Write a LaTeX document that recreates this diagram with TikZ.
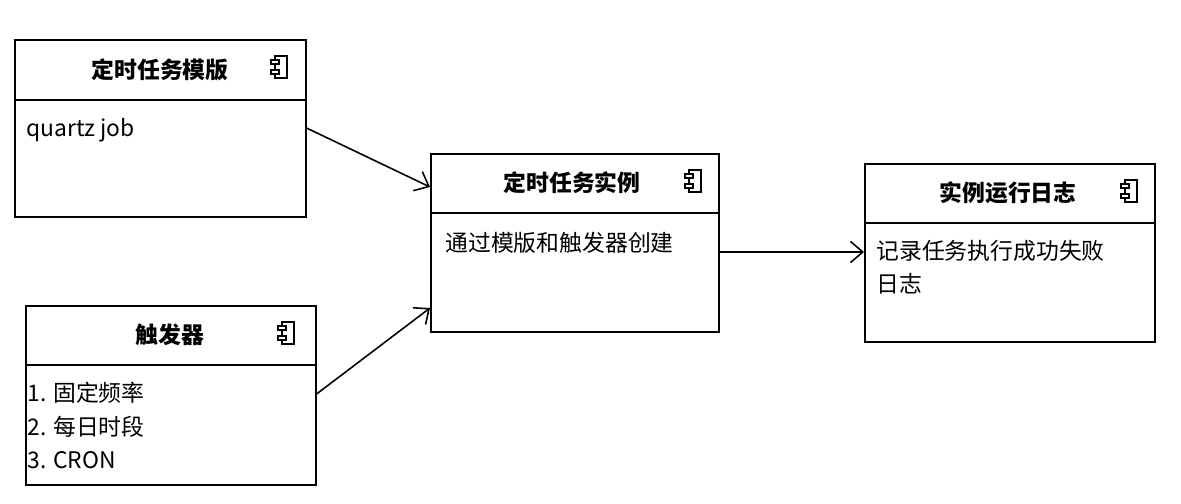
\documentclass[tikz,border=0pt]{standalone}
\usepackage{fontspec}
\setmainfont{Noto Sans CJK SC}
\usetikzlibrary{arrows.meta}
\tikzset{
  comp/.style={draw, line width=0.9pt, anchor=north west, inner sep=0pt},
  title/.style={font=\bfseries\fontsize{13}{15}\selectfont},
  body/.style={anchor=north west, align=left, font=\fontsize{13}{19}\selectfont, inner sep=0pt},
  conn/.style={line width=0.9pt, -{Straight Barb[length=7pt,width=12pt]}},
}
% component icon
\newcommand{\compicon}[1]{%
  \draw[line width=0.6pt] ($(#1)+(-5,-11)$) rectangle ($(#1)+(7,11)$);
  \draw[line width=0.6pt,fill=white] ($(#1)+(-9,-7)$) rectangle ($(#1)+(-1,-3)$);
  \draw[line width=0.6pt,fill=white] ($(#1)+(-9,3)$) rectangle ($(#1)+(-1,7)$);
}
\usetikzlibrary{calc}
\begin{document}
\begin{tikzpicture}[x=0.02cm,y=-0.02cm]
\useasboundingbox (0,0) rectangle (1181,504);

\node[comp, minimum width=291*0.02cm, minimum height=177*0.02cm] (tpl) at (14,39) {};
\draw[line width=0.9pt] (14,100) -- (305,100);
\node[title] (tplT) at (160,70) {定时任务模版};
\coordinate (tplI) at (280,67); \compicon{tplI}
\node[body] (tplB) at (26,118) {quartz job};

\node[comp, minimum width=290*0.02cm, minimum height=179*0.02cm] (trg) at (25,305) {};
\draw[line width=0.9pt] (25,365) -- (315,365);
\node[title] (trgT) at (170,335) {触发器};
\coordinate (trgI) at (287,333); \compicon{trgI}
\node[body] (trgB) at (27,382) {1. 固定频率\\2. 每日时段\\3. CRON};

\node[comp, minimum width=288*0.02cm, minimum height=178*0.02cm] (inst) at (430,153) {};
\draw[line width=0.9pt] (430,213) -- (718,213);
\node[title] (instT) at (572,183) {定时任务实例};
\coordinate (instI) at (694,181); \compicon{instI}
\node[body] (instB) at (445,232) {通过模版和触发器创建};

\node[comp, minimum width=290*0.02cm, minimum height=178*0.02cm] (log) at (864,163) {};
\draw[line width=0.9pt] (864,223) -- (1154,223);
\node[title] (logT) at (1008,193) {实例运行日志};
\coordinate (logI) at (1130,191); \compicon{logI}
\node[body] (logB) at (876,240) {记录任务执行成功失败\\日志};

\draw[conn] (tpl.east |- 0,128) -- (inst.west |- 0,187);
\draw[conn] (trg.east |- 0,394) -- (inst.west |- 0,308);
\draw[conn] (inst.east |- 0,252) -- (log.west |- 0,252);
\end{tikzpicture}
\end{document}
